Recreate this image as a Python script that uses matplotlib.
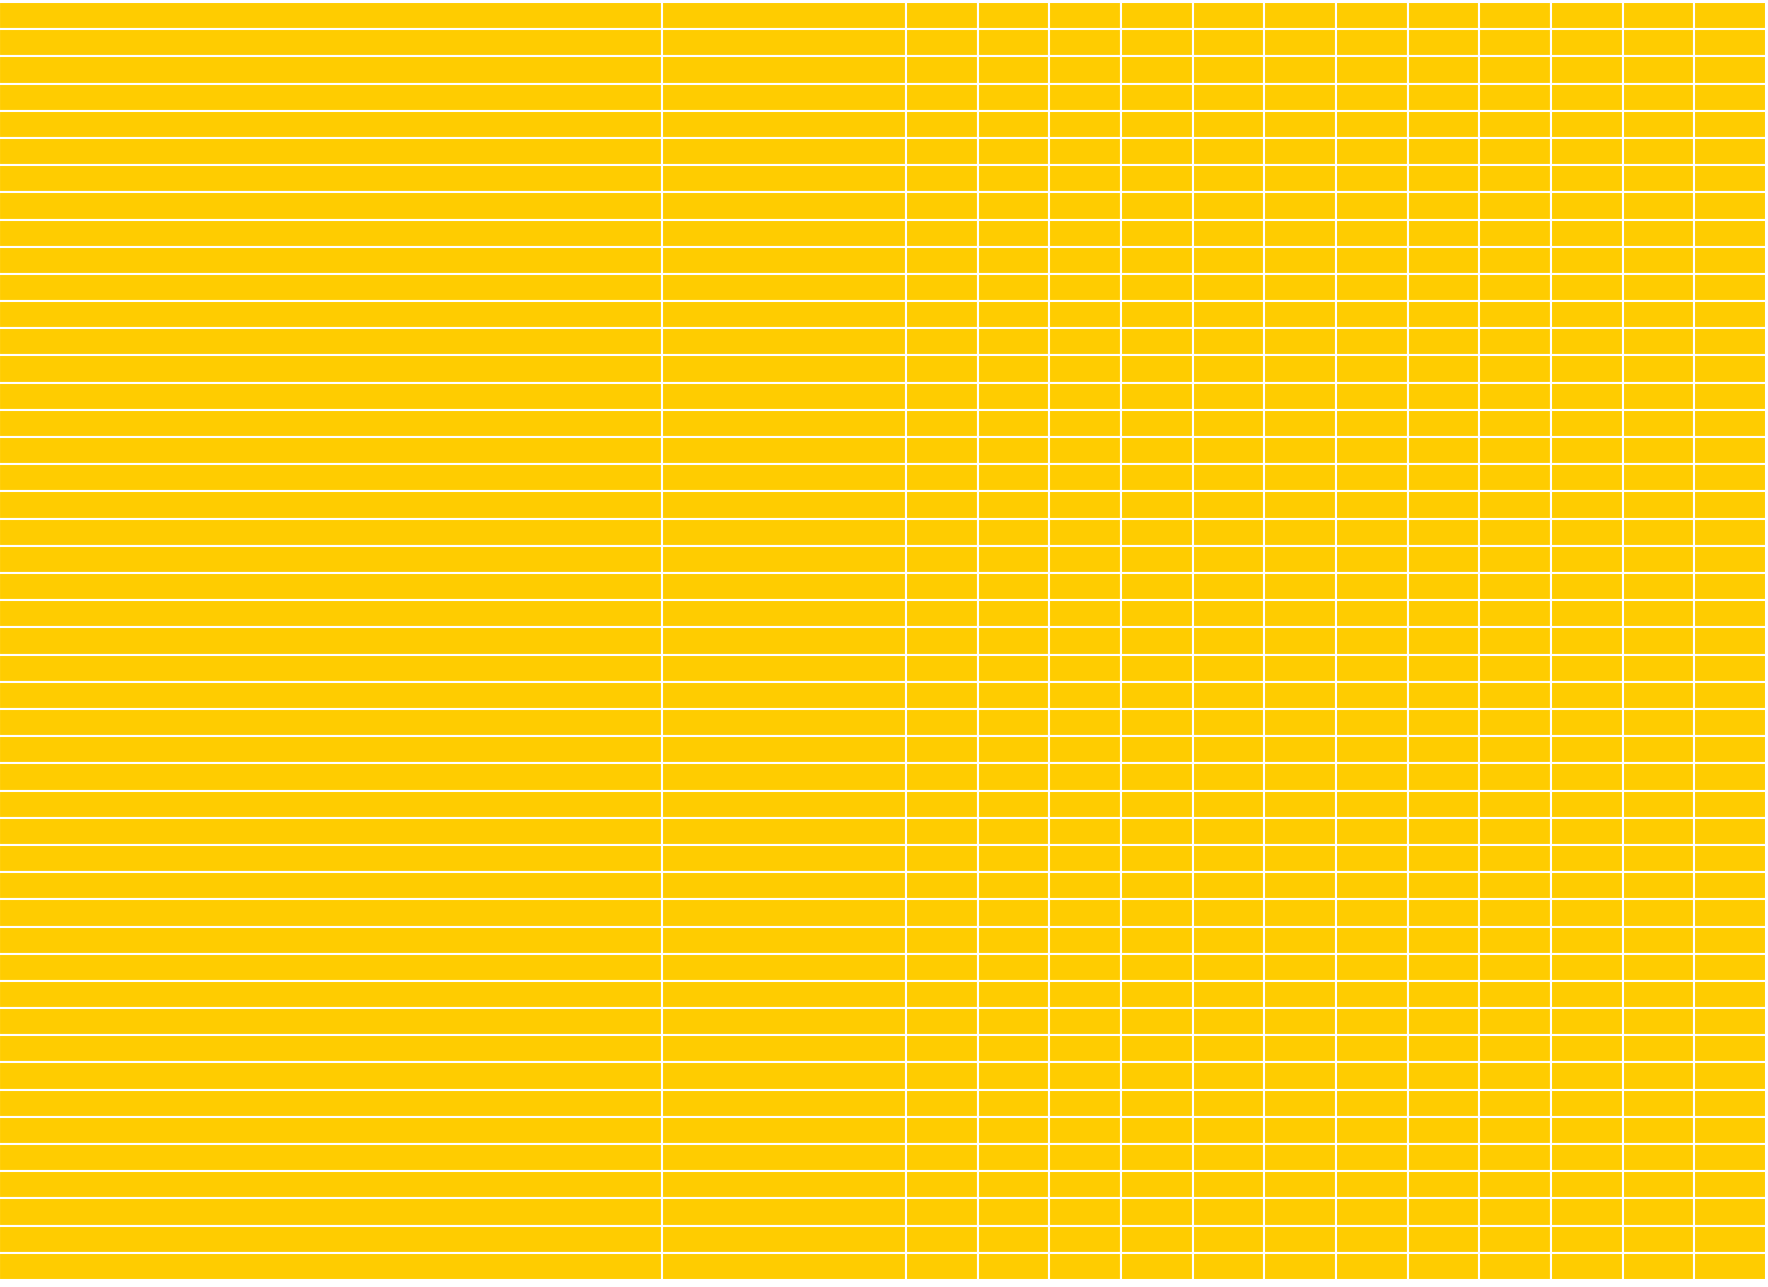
import matplotlib
matplotlib.use("Agg")
import matplotlib.pyplot as plt

# empty table: 47 rows x 14 columns, all cells yellow
N_ROWS = 47
N_COLS = 14
CELL_COLOR = "#FFCC00"

cell_text = [["" for _ in range(N_COLS)] for _ in range(N_ROWS)]
cell_colours = [[CELL_COLOR for _ in range(N_COLS)] for _ in range(N_ROWS)]

# column widths in pixels
col_px = [662, 244] + [71.6] * 12
total = sum(col_px)
col_widths = [w / total for w in col_px]

W, H = 1768, 1287
fig = plt.figure(figsize=(W / 100, H / 100), dpi=100)
ax = fig.add_axes([-1 / W, 7 / H, 1767 / W, 1278 / H])
ax.axis("off")

tbl = ax.table(cellText=cell_text, cellColours=cell_colours,
               colWidths=col_widths, bbox=[0, 0, 1, 1])
for (r, c), cell in tbl.get_celld().items():
    cell.set_edgecolor("white")
    cell.set_linewidth(1.5)

fig.savefig("out.png", dpi=100, facecolor="white")
